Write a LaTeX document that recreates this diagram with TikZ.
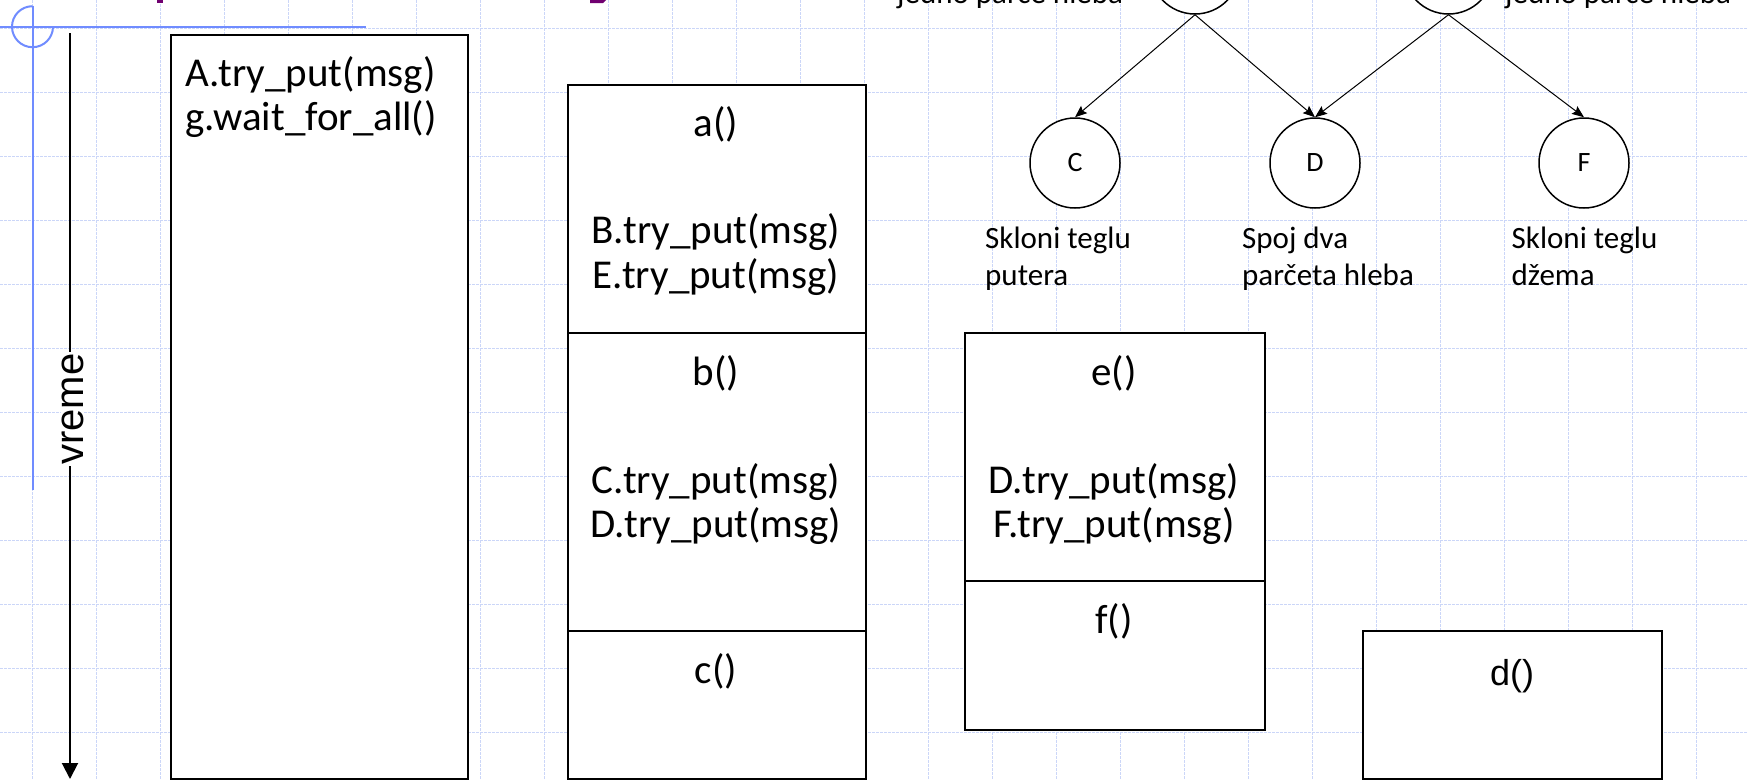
\documentclass[tikz,border=0pt]{standalone}
\usepackage{fontspec}
\setmainfont{Carlito}
\newfontfamily\arialf{Liberation Sans}
\usetikzlibrary{arrows.meta}
\definecolor{gridblue}{RGB}{203,214,248}
\definecolor{guideblue}{RGB}{112,140,255}
\definecolor{titlepurple}{RGB}{112,0,112}

\begin{document}
\begin{tikzpicture}[x=1pt,y=-1pt,
  gridline/.style={gridblue, line width=1.2pt, dash pattern=on 2.5pt off 1.5pt},
  guide/.style={guideblue, line width=2pt},
  framebox/.style={draw=black, fill=white, line width=2pt, rectangle, inner sep=0pt, anchor=north west},
  code/.style={font=\fontsize{41}{44}\selectfont, inner sep=0pt, anchor=base},
  task/.style={circle, draw, fill=white, line width=1.5pt, minimum size=90pt, inner sep=0pt, font=\fontsize{28}{30}\selectfont},
  note/.style={font=\fontsize{31}{37.5}\selectfont, inner sep=0pt, anchor=base west},
  dep/.style={-{Stealth[length=12pt,width=9.5pt,inset=2pt]}, line width=1pt},
]
\useasboundingbox (0,0) rectangle (1748,779);
\clip (0,0) rectangle (1748,779);
\fill[white] (0,0) rectangle (1748,779);

% background grid
\foreach \k in {0,...,26} \draw[gridline] (32.5+64*\k,0) -- (32.5+64*\k,779);
\foreach \k in {0,...,11} \draw[gridline] (0,28.5+64*\k) -- (1748,28.5+64*\k);

% slide guide marks
\draw[guide] (0,26.7) -- (365.5,26.7);
\draw[guide] (32.5,5.7) -- (32.5,490);
\draw[guide] (32.5,6.2) arc[start angle=90, end angle=360, radius=20.5pt];
\fill[titlepurple] (157,0) rectangle (163,3);
\fill[titlepurple] (590,0) -- (606,0) -- (603,3) -- (590,3) -- cycle;

% time axis
\coordinate (tTop) at (70,33);
\coordinate (tEnd) at (70,779);
\draw[line width=2pt, -{Triangle[length=16pt,width=16pt]}] (tTop) -- (tEnd);
\node[font=\arialf\fontsize{40}{40}\selectfont, fill=white, inner sep=1pt, rotate=90] (tLabel) at (72.5,409) {vreme};

% main thread
\node[framebox, minimum width=297.5pt, minimum height=744pt] (mainbox) at (169.5,34) {};
\node[code, anchor=base west] (m1) at (185,86.7) {A.try\_put(msg)};
\node[code, anchor=base west] (m2) at (185,130) {g.wait\_for\_all()};

% worker: a, b, c
\node[framebox, minimum width=298pt, minimum height=247.5pt] (secA) at (567,84) {};
\node[framebox, minimum width=298pt, minimum height=298.5pt] (secB) at (567,331.5) {};
\node[framebox, minimum width=298pt, minimum height=148pt] (secC) at (567,630) {};
\node[code] (a0) at (716,136) {a()};
\node[code] (a1) at (716,243) {B.try\_put(msg)};
\node[code] (a2) at (716,288) {E.try\_put(msg)};
\node[code] (b0) at (716,385) {b()};
\node[code] (b1) at (716,493) {C.try\_put(msg)};
\node[code] (b2) at (716,537) {D.try\_put(msg)};
\node[code] (c0) at (716,683) {c()};

% worker: e, f
\node[framebox, minimum width=299.5pt, minimum height=248pt] (secE) at (964,332) {};
\node[framebox, minimum width=299.5pt, minimum height=149pt] (secF) at (964,580) {};
\node[code] (e0) at (1114,385) {e()};
\node[code] (e1) at (1114,493) {D.try\_put(msg)};
\node[code] (e2) at (1114,537) {F.try\_put(msg)};
\node[code] (f0) at (1114,633) {f()};

% worker: d
\node[framebox, minimum width=299pt, minimum height=148pt] (secD) at (1362,630) {};
\node[font=\arialf\fontsize{36}{36}\selectfont, inner sep=0pt, anchor=base] (d0) at (1512,685) {d()};

% task graph
\node[task] (A) at (1195,-31) {};
\node[task] (B) at (1448.5,-31) {};
\node[task] (C) at (1075,163) {C};
\node[task] (D) at (1315,163) {D};
\node[task] (F) at (1584,163) {F};
\draw[dep] (A.south) -- (C.north);
\draw[dep] (A.south) -- (D.north);
\draw[dep] (B.south) -- (D.north);
\draw[dep] (B.south) -- (F.north);

\node[note] (capA) at (897,3.5) {jedno parče hleba};
\node[note] (capB) at (1505,3.5) {jedno parče hleba};
\node[note] (capC1) at (985,248) {Skloni teglu};
\node[note] (capC2) at (985,285.8) {putera};
\node[note] (capD1) at (1242,248) {Spoj dva};
\node[note] (capD2) at (1242,285.8) {parčeta hleba};
\node[note] (capF1) at (1511.5,248) {Skloni teglu};
\node[note] (capF2) at (1511.5,285.8) {džema};
\end{tikzpicture}
\end{document}
